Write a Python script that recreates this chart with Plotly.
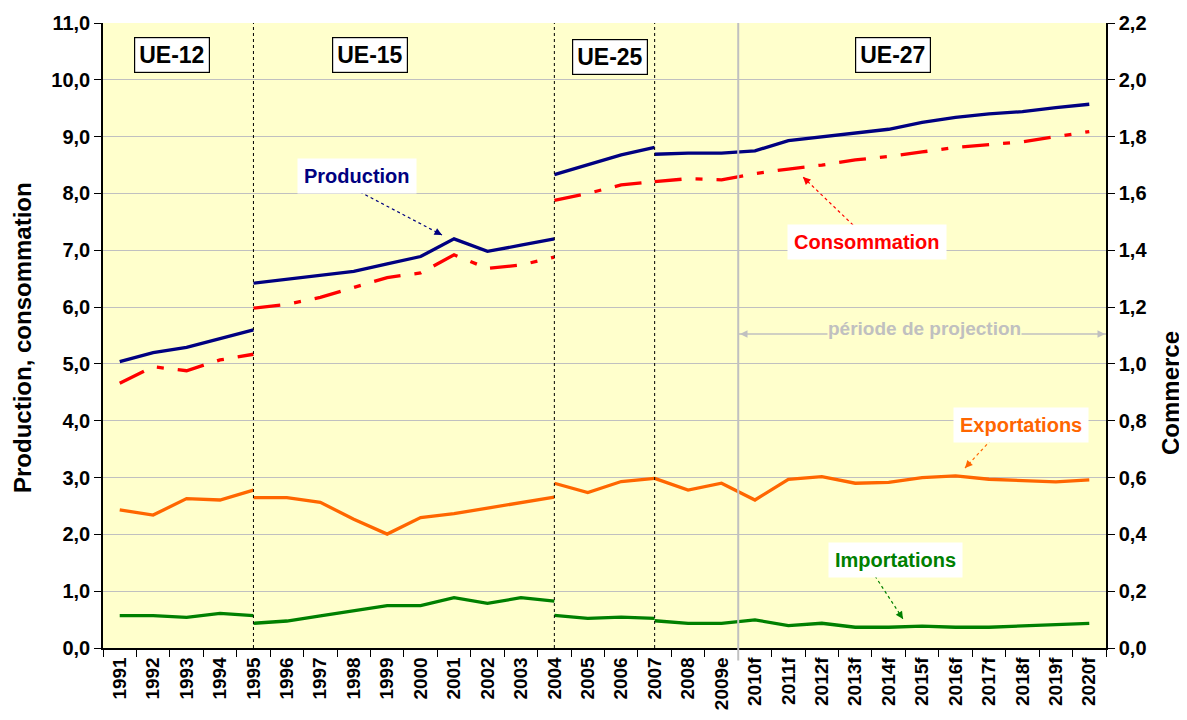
import plotly.graph_objects as go

# ---------------- data ----------------
years = ["1991", "1992", "1993", "1994", "1995", "1996", "1997", "1998", "1999", "2000",
         "2001", "2002", "2003", "2004", "2005", "2006", "2007", "2008", "2009e",
         "2010f", "2011f", "2012f", "2013f", "2014f", "2015f", "2016f", "2017f",
         "2018f", "2019f", "2020f"]

# segments (first index, last index) into years
seg_ue12 = (0, 4)    # 1991-1995
seg_ue15 = (4, 13)   # 1995-2004
seg_ue25 = (13, 16)  # 2004-2007
seg_ue27 = (16, 29)  # 2007-2020f

prod_ue12 = [5.04, 5.20, 5.29, 5.44, 5.60]
prod_ue15 = [6.42, 6.49, 6.55, 6.63, 6.76, 6.89, 7.20, 6.98, 7.09, 7.20]
prod_ue25 = [8.33, 8.50, 8.68, 8.81]
prod_ue27 = [8.69, 8.71, 8.71, 8.75, 8.93, 9.00, 9.06, 9.13, 9.25, 9.34, 9.40, 9.44, 9.51, 9.57]

cons_ue12 = [4.66, 4.95, 4.88, 5.07, 5.17]
cons_ue15 = [5.98, 6.05, 6.17, 6.34, 6.52, 6.60, 6.92, 6.68, 6.74, 6.88]
cons_ue25 = [7.88, 8.00, 8.15, 8.21]
cons_ue27 = [8.21, 8.26, 8.24, 8.35, 8.43, 8.50, 8.59, 8.65, 8.73, 8.81, 8.86, 8.91, 9.00, 9.09]

exp_ue12 = [0.486, 0.468, 0.526, 0.521, 0.556]
exp_ue15 = [0.529, 0.529, 0.513, 0.453, 0.401, 0.459, 0.473, 0.492, 0.512, 0.531]
exp_ue25 = [0.580, 0.547, 0.586, 0.597]
exp_ue27 = [0.597, 0.556, 0.580, 0.521, 0.594, 0.603, 0.580, 0.583, 0.600, 0.606, 0.594, 0.589, 0.585, 0.592]

imp_ue12 = [0.114, 0.114, 0.108, 0.122, 0.114]
imp_ue15 = [0.087, 0.095, 0.113, 0.130, 0.149, 0.149, 0.177, 0.157, 0.177, 0.165]
imp_ue25 = [0.115, 0.104, 0.109, 0.104]
imp_ue27 = [0.096, 0.087, 0.087, 0.099, 0.079, 0.087, 0.073, 0.073, 0.077, 0.073, 0.073, 0.077, 0.083, 0.087]

zones = ["UE-12", "UE-15", "UE-25", "UE-27"]
y_ticks_left = [0, 1, 2, 3, 4, 5, 6, 7, 8, 9, 10, 11]
y_ticks_right = [0, 0.2, 0.4, 0.6, 0.8, 1.0, 1.2, 1.4, 1.6, 1.8, 2.0, 2.2]

# ---------------- styles ----------------
FONT = "Arial, 'Liberation Sans', sans-serif"
C_PROD = "#000080"
C_CONS = "#FF0000"
C_EXP = "#FF6600"
C_IMP = "#008000"

OFF = 8  # default page body margin
W, H = 1187 - OFF, 720 - OFF
# plot area in screen pixels: left 103, right 1106, top 23, bottom 648
ML, MT = 103 - OFF, 23 - OFF
MR, MB = W - (1106 - OFF), H - (648 - OFF)
PW, PH = W - ML - MR, H - MT - MB


def px(x):
    return (x - OFF - ML) / PW


def py(y):
    return (H - MB - (y - OFF)) / PH


fig = go.Figure()

segments = [seg_ue12, seg_ue15, seg_ue25, seg_ue27]
series = [
    ([prod_ue12, prod_ue15, prod_ue25, prod_ue27], C_PROD, "solid", "y", "Production"),
    ([cons_ue12, cons_ue15, cons_ue25, cons_ue27], C_CONS, "27px,14px,7px,14px", "y", "Consommation"),
    ([exp_ue12, exp_ue15, exp_ue25, exp_ue27], C_EXP, "solid", "y2", "Exportations"),
    ([imp_ue12, imp_ue15, imp_ue25, imp_ue27], C_IMP, "solid", "y2", "Importations"),
]
for vals_list, col, dash, yax, name in series:
    for (a, b), vals in zip(segments, vals_list):
        fig.add_trace(go.Scatter(
            x=years[a:b + 1], y=vals, mode="lines", yaxis=yax, name=name,
            line=dict(color=col, width=3.3, dash=dash), showlegend=False,
            hoverinfo="x+y"))

shapes = []
# zone separators
for (a, b) in segments[1:]:
    shapes.append(dict(type="line", xref="x", yref="paper", x0=a, x1=a, y0=0, y1=1,
                       line=dict(color="black", width=1, dash="dot"), layer="above"))
# projection start
shapes.append(dict(type="line", xref="x", yref="paper", x0=18.5, x1=18.5, y0=-0.02, y1=1,
                   line=dict(color="#C0C0C0", width=2), layer="above"))
# projection period line
shapes.append(dict(type="line", xref="paper", yref="paper", x0=px(738), x1=px(1106),
                   y0=py(334), y1=py(334), line=dict(color="#C0C0C0", width=1.5), layer="above"))

annotations = []


def note(x, y, text, **kw):
    d = dict(x=px(x), y=py(y), xref="paper", yref="paper", text=text,
             xanchor="center", yanchor="middle", showarrow=False)
    d.update(kw)
    annotations.append(d)


# zone labels
zone_pos = [(172, 55), (370, 55), (610, 57), (893, 55)]
for z, (zx, zy) in zip(zones, zone_pos):
    note(zx, zy, f"<b>{z}</b>", font=dict(family=FONT, size=23, color="black"),
         bgcolor="white", bordercolor="black", borderwidth=1.2, borderpad=4)

# series labels with dotted arrows
labels = [
    ("Production", C_PROD, (357, 176), (360, 192), (442, 235)),
    ("Consommation", C_CONS, (867, 242), (853, 225), (803, 177)),
    ("Exportations", C_EXP, (1021, 425), (991, 440), (965, 468)),
    ("Importations", C_IMP, (895, 560), (875, 576), (903, 619)),
]
for txt, col, (lx, ly), (sx, sy), (ex, ey) in labels:
    note(lx, ly, f"<b>{txt}</b>", font=dict(family=FONT, size=20, color=col),
         bgcolor="white", borderpad=6)
    shapes.append(dict(type="line", xref="paper", yref="paper", x0=px(sx), y0=py(sy),
                       x1=px(ex), y1=py(ey), line=dict(color=col, width=1.2, dash="dot"),
                       layer="above"))
    dx, dy = ex - sx, ey - sy
    n = (dx * dx + dy * dy) ** 0.5
    annotations.append(dict(x=px(ex), y=py(ey), xref="paper", yref="paper", text="",
                            showarrow=True, arrowhead=2, arrowsize=1, arrowwidth=1.5,
                            arrowcolor=col, ax=-dx / n * 7, ay=-dy / n * 7))

# projection period
note(924, 328, "<b>période de projection</b>", font=dict(family=FONT, size=19, color="#C0C0C0"),
     bgcolor="#FFFFCC", borderpad=0)
for (sx, ex) in [(780, 740), (1060, 1105)]:
    annotations.append(dict(x=px(ex), y=py(334), xref="paper", yref="paper", text="",
                            showarrow=True, arrowhead=2, arrowsize=1, arrowwidth=1.5,
                            arrowcolor="#C0C0C0", ax=(sx - ex) / abs(sx - ex) * 8, ay=0))

# axis titles
note(22, 338, "<b>Production, consommation</b>", textangle=-90, borderpad=0,
     font=dict(family=FONT, size=24, color="black"))
note(1170, 393, "<b>Commerce</b>", textangle=-90, borderpad=0,
     font=dict(family=FONT, size=24, color="black"))

fig.update_layout(
    width=W, height=H,
    margin=dict(l=ML, r=MR, t=MT, b=MB, autoexpand=False),
    paper_bgcolor="white", plot_bgcolor="#FFFFCC",
    separators=", ",
    font=dict(family=FONT, color="black"),
    shapes=shapes, annotations=annotations,
    xaxis=dict(type="category", categoryorder="array", categoryarray=years,
               range=[-0.5, 29.5], tickson="boundaries", ticks="outside", ticklen=7,
               tickcolor="black", showline=True, linecolor="black", linewidth=1.5,
               showgrid=False, tickangle=-90, tickfont=dict(size=19, weight="bold"),
               automargin=False, fixedrange=True),
    yaxis=dict(range=[0, 11], tickvals=y_ticks_left, tickformat=".1f", ticks="outside",
               ticklen=7, tickcolor="black", showline=True, linecolor="black", linewidth=1.5,
               showgrid=True, gridcolor="#C0C0C0", gridwidth=1.2, zeroline=False,
               tickfont=dict(size=20, weight="bold"), automargin=False),
    yaxis2=dict(range=[0, 2.2], tickvals=y_ticks_right, tickformat=".1f", overlaying="y",
                side="right", ticks="outside", ticklen=7, tickcolor="black", showline=True,
                linecolor="black", linewidth=1.5, showgrid=False, zeroline=False,
                tickfont=dict(size=20, weight="bold"), automargin=False),
)

fig.write_html("out.html")
